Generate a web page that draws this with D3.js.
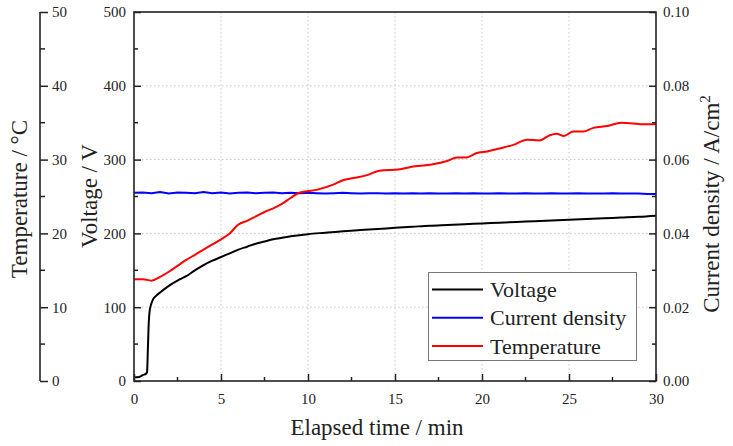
<!DOCTYPE html>
<html><head><meta charset="utf-8">
<script src="https://cdn.jsdelivr.net/npm/d3@7"></script>
<style>body{margin:0;background:#fff}svg{display:block}text{font-family:"Liberation Serif","Times New Roman",serif;fill:#222}</style>
</head><body><svg id="c" width="733" height="446"></svg>
<script>
const voltTime = [0,0.3,0.5,0.7,0.75,0.8,0.85,0.9,0.95,1.0,1.1,1.3,1.5,2,2.5,3,3.5,4,4.5,5,5.5,6,6.5,7,7.5,8,9,10,11,12,13,14,15,16,17,18,19,20,21,22,23,24,25,26,27,28,29,30];
const voltage  = [5,5.5,8,10,12,45,80,95,101,105,111,116,120,129,136,142,150,157,163,168,173,178,182,186,189,192,196,199,201,203,204.5,206,207.5,209,210.5,211.5,212.5,213.5,214.5,215.5,216.5,217.5,218.5,219.5,220.5,221.5,222.5,224];
const curTime = [0,0.5,1,1.5,2,2.5,3,3.5,4,4.5,5,5.5,6,6.5,7,7.5,8,8.5,9,9.5,10,10.5,11,11.5,12,12.5,13,13.5,14,14.5,15,15.5,16,16.5,17,17.5,18,18.5,19,19.5,20,20.5,21,21.5,22,22.5,23,23.5,24,24.5,25,25.5,26,26.5,27,27.5,28,28.5,29,29.5,30];
const currentDensity = [0.0510,0.0511,0.0509,0.0512,0.0508,0.0511,0.0510,0.0509,0.0512,0.0509,0.0511,0.0508,0.0510,0.0511,0.0509,0.0510,0.0511,0.0509,0.0510,0.0509,0.0510,0.0509,0.0508,0.0509,0.0510,0.0509,0.0508,0.0509,0.0509,0.0508,0.0509,0.0508,0.0509,0.0508,0.0509,0.0508,0.0508,0.0509,0.0508,0.0509,0.0508,0.0508,0.0509,0.0508,0.0508,0.0509,0.0508,0.0508,0.0509,0.0508,0.0508,0.0509,0.0508,0.0508,0.0508,0.0509,0.0508,0.0508,0.0508,0.0507,0.0507];
const tempTime = [0,0.5,1.0,1.5,2.0,2.5,3.0,3.5,4.0,4.5,5.0,5.5,6.0,6.5,7.0,7.5,8.0,8.5,9.0,9.5,10.5,11.45,12.0,12.6,13.4,14.1,15.3,15.9,17.0,18.0,18.55,19.1,19.7,20.3,21.0,21.8,22.6,23.3,23.9,24.3,24.7,25.25,25.8,26.4,27.2,28.0,28.7,29.1,30];
const temperature = [13.8,13.8,13.6,14.1,14.8,15.6,16.4,17.1,17.8,18.5,19.2,20.0,21.2,21.7,22.3,22.9,23.4,24.0,24.8,25.5,25.9,26.6,27.2,27.5,27.9,28.5,28.7,29.0,29.3,29.8,30.3,30.3,30.9,31.1,31.5,32.0,32.7,32.6,33.3,33.5,33.2,33.8,33.8,34.3,34.55,35.0,34.9,34.8,34.8];
const xTicks = [0,5,10,15,20,25,30];
const vTicks = [0,100,200,300,400,500];
const tTicks = [0,10,20,30,40,50];
const jTicks = [0,0.02,0.04,0.06,0.08,0.10];
const legendNames = ["Voltage","Current density","Temperature"];
const colors = ["#000000","#0000ff","#ff0000"];

const FONT = '"Liberation Serif","Times New Roman",serif';
const svg = d3.select("#c");
const L=134, R=656, T=12, B=381, TX=40;
const x = d3.scaleLinear().domain([0,30]).range([L,R]);
const yV = d3.scaleLinear().domain([0,500]).range([B,T]);
const yT = d3.scaleLinear().domain([0,50]).range([B,T]);
const yJ = d3.scaleLinear().domain([0,0.10]).range([B,T]);

// grid
const g = svg.append("g");
g.selectAll(".gx").data(xTicks.slice(1,-1)).join("line")
 .attr("x1",d=>x(d)).attr("x2",d=>x(d)).attr("y1",T).attr("y2",B)
 .attr("stroke","#c8c8c8").attr("stroke-width",1).attr("stroke-dasharray","1.5,2.5");
g.selectAll(".gy").data(vTicks.slice(1,-1)).join("line")
 .attr("y1",d=>yV(d)).attr("y2",d=>yV(d)).attr("x1",L).attr("x2",R)
 .attr("stroke","#c8c8c8").attr("stroke-width",1).attr("stroke-dasharray","1.5,2.5");

// lines
const lineJ = d3.line().x((d,i)=>x(curTime[i])).y(d=>yJ(d));
const lineT = d3.line().x((d,i)=>x(tempTime[i])).y(d=>yT(d)).curve(d3.curveMonotoneX);
const lineV = d3.line().x((d,i)=>x(voltTime[i])).y(d=>yV(d)).curve(d3.curveMonotoneX);
svg.append("path").attr("d",lineJ(currentDensity)).attr("fill","none").attr("stroke",colors[1]).attr("stroke-width",2);
svg.append("path").attr("d",lineT(temperature)).attr("fill","none").attr("stroke",colors[2]).attr("stroke-width",2);
svg.append("path").attr("d",lineV(voltage)).attr("fill","none").attr("stroke",colors[0]).attr("stroke-width",2);

// frame
svg.append("rect").attr("x",L).attr("y",T).attr("width",R-L).attr("height",B-T).attr("fill","none").attr("stroke","#222").attr("stroke-width",1.6);

function styleAxis(sel){
  sel.select(".domain").remove();
  sel.attr("font-family",FONT);
  sel.selectAll(".tick line").attr("stroke","#222").attr("stroke-width",1.5);
  sel.selectAll(".tick text").attr("font-size",15).attr("fill","#222").attr("font-family",FONT);
}
// minor ticks
const xMinor = d3.range(2.5,30,5);
const vMinor = d3.range(50,500,100);
svg.append("g").selectAll("line").data(xMinor).join("line").attr("x1",d=>x(d)).attr("x2",d=>x(d)).attr("y1",B).attr("y2",B-4).attr("stroke","#222").attr("stroke-width",1.5);
svg.append("g").selectAll("line").data(vMinor).join("line").attr("y1",d=>yV(d)).attr("y2",d=>yV(d)).attr("x1",L).attr("x2",L+4).attr("stroke","#222").attr("stroke-width",1.5);
svg.append("g").selectAll("line").data(vMinor).join("line").attr("y1",d=>yV(d)).attr("y2",d=>yV(d)).attr("x1",R).attr("x2",R-4).attr("stroke","#222").attr("stroke-width",1.5);
svg.append("g").selectAll("line").data(vMinor).join("line").attr("y1",d=>yV(d)).attr("y2",d=>yV(d)).attr("x1",TX).attr("x2",TX+5).attr("stroke","#222").attr("stroke-width",1.5);

const ax = svg.append("g").attr("transform",`translate(0,${B})`).call(d3.axisBottom(x).tickValues(xTicks).tickSize(-7).tickPadding(12).tickFormat(d3.format("d")));
styleAxis(ax);
const av = svg.append("g").attr("transform",`translate(${L},0)`).call(d3.axisLeft(yV).tickValues(vTicks).tickSize(-7).tickPadding(8).tickFormat(d3.format("d")));
styleAxis(av);
const aj = svg.append("g").attr("transform",`translate(${R},0)`).call(d3.axisRight(yJ).tickValues(jTicks).tickSize(-7).tickPadding(7).tickFormat(d3.format(".2f")));
styleAxis(aj);
const at = svg.append("g").attr("transform",`translate(${TX},0)`).call(d3.axisRight(yT).tickValues(tTicks).tickSize(8).tickPadding(4).tickFormat(d3.format("d")));
styleAxis(at);
svg.append("line").attr("x1",TX).attr("x2",TX).attr("y1",T).attr("y2",B).attr("stroke","#222").attr("stroke-width",1.6);

// titles
const TS = 23;
svg.append("text").attr("x",377).attr("y",435).attr("text-anchor","middle").attr("font-size",TS).attr("font-family",FONT).text("Elapsed time / min");
svg.append("text").attr("transform","translate(27,199) rotate(-90)").attr("text-anchor","middle").attr("font-size",TS).attr("font-family",FONT).text("Temperature / °C");
svg.append("text").attr("transform","translate(97,196) rotate(-90)").attr("text-anchor","middle").attr("font-size",TS).attr("font-family",FONT).text("Voltage / V");
const rt = svg.append("text").attr("transform","translate(719,204) rotate(-90)").attr("text-anchor","middle").attr("font-size",TS).attr("font-family",FONT);
rt.append("tspan").text("Current density / A/cm");
rt.append("tspan").attr("dy",-9).attr("font-size",15).text("2");

// legend
svg.append("rect").attr("x",428.5).attr("y",272.5).attr("width",208).attr("height",88).attr("fill","#fff").attr("stroke","#777").attr("stroke-width",1);
const lg = svg.append("g").selectAll("g").data(legendNames).join("g").attr("transform",(d,i)=>`translate(0,${289.5+i*28.3})`);
lg.append("line").attr("x1",432).attr("x2",483).attr("stroke",(d,i)=>colors[i]).attr("stroke-width",2);
lg.append("text").attr("x",490).attr("y",7.5).attr("font-size",22).attr("font-family",FONT).text(d=>d);
</script></body></html>
